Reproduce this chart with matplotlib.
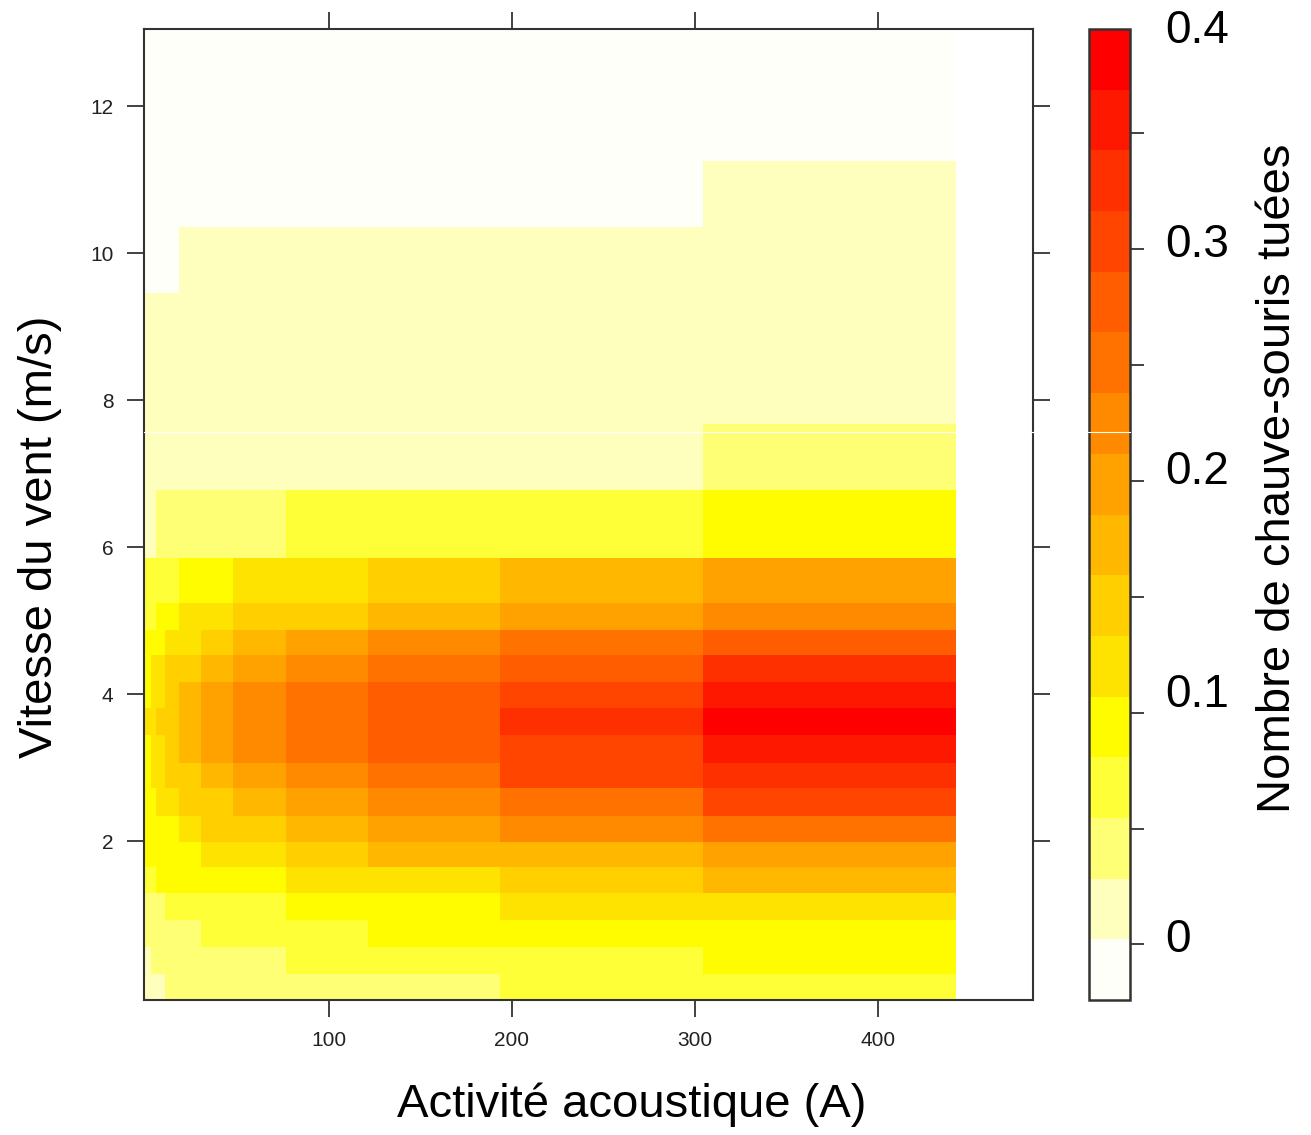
import numpy as np
import matplotlib
matplotlib.use('Agg')
import matplotlib.pyplot as plt
from matplotlib.colors import ListedColormap, BoundaryNorm
from matplotlib.lines import Line2D

plt.rcParams['font.family'] = ['Liberation Sans', 'DejaVu Sans']

# cell edges of the level plot (acoustic activity, wind speed)
activity_edges = [-0.9, 2.9, 5.6, 10.5, 18.2, 30.2, 47.6, 76.5, 121.3, 193.3, 304.6, 442.6]
wind_edges = [-0.16, 0.20, 0.56, 0.93, 1.29, 1.65, 1.99, 2.35, 2.72, 3.07, 3.44, 3.81,
              4.16, 4.53, 4.87, 5.24, 5.86, 6.78, 7.67, 9.46, 10.35, 11.25, 13.05]

# predicted number of killed bats, rows = wind bins (bottom -> top)
kills = [
    [0.02, 0.02, 0.02, 0.04, 0.04, 0.04, 0.04, 0.04, 0.04, 0.07, 0.07],
    [0.02, 0.04, 0.04, 0.04, 0.04, 0.04, 0.04, 0.07, 0.07, 0.07, 0.09],
    [0.04, 0.04, 0.04, 0.04, 0.04, 0.07, 0.07, 0.07, 0.09, 0.09, 0.09],
    [0.04, 0.04, 0.04, 0.07, 0.07, 0.07, 0.07, 0.09, 0.09, 0.12, 0.12],
    [0.07, 0.07, 0.09, 0.09, 0.09, 0.09, 0.09, 0.12, 0.12, 0.15, 0.17],
    [0.09, 0.09, 0.09, 0.09, 0.09, 0.12, 0.12, 0.15, 0.17, 0.17, 0.20],
    [0.09, 0.09, 0.09, 0.09, 0.12, 0.15, 0.15, 0.17, 0.20, 0.22, 0.25],
    [0.09, 0.09, 0.12, 0.12, 0.15, 0.15, 0.17, 0.20, 0.22, 0.25, 0.30],
    [0.09, 0.12, 0.12, 0.15, 0.15, 0.17, 0.20, 0.22, 0.25, 0.30, 0.33],
    [0.09, 0.12, 0.12, 0.15, 0.17, 0.20, 0.22, 0.25, 0.28, 0.30, 0.36],
    [0.12, 0.12, 0.15, 0.15, 0.17, 0.20, 0.22, 0.25, 0.28, 0.33, 0.38],
    [0.09, 0.12, 0.12, 0.15, 0.17, 0.20, 0.22, 0.25, 0.28, 0.30, 0.36],
    [0.09, 0.12, 0.12, 0.15, 0.15, 0.17, 0.20, 0.22, 0.25, 0.28, 0.33],
    [0.09, 0.09, 0.09, 0.12, 0.12, 0.15, 0.17, 0.20, 0.22, 0.25, 0.28],
    [0.07, 0.07, 0.09, 0.09, 0.12, 0.12, 0.15, 0.15, 0.17, 0.20, 0.22],
    [0.07, 0.07, 0.07, 0.07, 0.09, 0.09, 0.12, 0.12, 0.15, 0.17, 0.20],
    [0.02, 0.02, 0.04, 0.04, 0.04, 0.04, 0.04, 0.07, 0.07, 0.07, 0.09],
    [0.02, 0.02, 0.02, 0.02, 0.02, 0.02, 0.02, 0.02, 0.02, 0.02, 0.04],
    [0.02, 0.02, 0.02, 0.02, 0.02, 0.02, 0.02, 0.02, 0.02, 0.02, 0.02],
    [-0.01, -0.01, -0.01, -0.01, 0.02, 0.02, 0.02, 0.02, 0.02, 0.02, 0.02],
    [-0.01, -0.01, -0.01, -0.01, -0.01, -0.01, -0.01, -0.01, -0.01, -0.01, 0.02],
    [-0.01, -0.01, -0.01, -0.01, -0.01, -0.01, -0.01, -0.01, -0.01, -0.01, -0.01],
]

z_range = (-0.024, 0.395)
x_ticks = [100, 200, 300, 400]
y_ticks = [2, 4, 6, 8, 10, 12]
cbar_labels = ['0', '0.1', '0.2', '0.3', '0.4']
cbar_label_pos = [0.002, 0.1075, 0.204, 0.302, 0.394]

heat = ['#FFFFFA', '#FFFFBD', '#FFFF75', '#FFFF38', '#FFFC00', '#FFE300', '#FFCF00', '#FFB700',
        '#FFA200', '#FF8A00', '#FF7200', '#FF5D00', '#FF4500', '#FF3000', '#FF1800', '#FF0000']
cmap = ListedColormap(heat)
bounds = np.linspace(z_range[0], z_range[1], len(heat) + 1)
norm = BoundaryNorm(bounds, cmap.N)

W, H = 1311, 1135
fig = plt.figure(figsize=(W / 100, H / 100), dpi=100)
ax = fig.add_axes([144 / W, 1 - 1000 / H, (1033 - 144) / W, (1000 - 29) / H])
cax = fig.add_axes([1089 / W, 1 - 1000 / H, (1130 - 1089) / W, (1000 - 29) / H])

mesh = ax.pcolormesh(activity_edges, wind_edges, np.array(kills), cmap=cmap, norm=norm,
                     shading='flat', edgecolors='none', antialiased=False)
ax.set_xlim(-0.9, 484.6)
ax.set_ylim(-0.16, 13.05)
ax.set_xticks(x_ticks)
ax.set_yticks(y_ticks)
ax.tick_params(direction='out', length=12, width=1.3, color='#333333', top=True, right=True,
               labelsize=15, labelcolor='#222222', pad=10)
for s in ax.spines.values():
    s.set_color('#333333')
    s.set_linewidth(1.5)

cb = fig.colorbar(mesh, cax=cax)
cb.outline.set_edgecolor('#333333')
cb.outline.set_linewidth(1.8)
cax.set_ylim(z_range)
cax.yaxis.set_ticks(np.arange(0, 0.36, 0.05))
cax.yaxis.set_ticklabels([])
cax.tick_params(axis='y', direction='out', length=10, width=1.3, color='#333333', right=True, left=False)
cax.minorticks_off()
for lab, pos in zip(cbar_labels, cbar_label_pos):
    cax.text(1.85, pos, lab, transform=cax.get_yaxis_transform(), fontsize=33,
             ha='left', va='center')

fig.text(632 / W, 1 - 1105 / H, 'Activité acoustique (A)', fontsize=34, ha='center', va='center')
fig.text(40 / W, 1 - 537 / H, 'Vitesse du vent (m/s)', fontsize=34, rotation=90,
         ha='center', va='center')
fig.text(1278 / W, 1 - 478 / H, 'Nombre de chauve-souris tuées', fontsize=34, rotation=90,
         ha='center', va='center')

# thin white scan line visible across the original image
fig.add_artist(Line2D([144 / W, 1130 / W], [1 - 432 / H, 1 - 432 / H], color='white', lw=0.8))

fig.savefig('out.png', dpi=100)
